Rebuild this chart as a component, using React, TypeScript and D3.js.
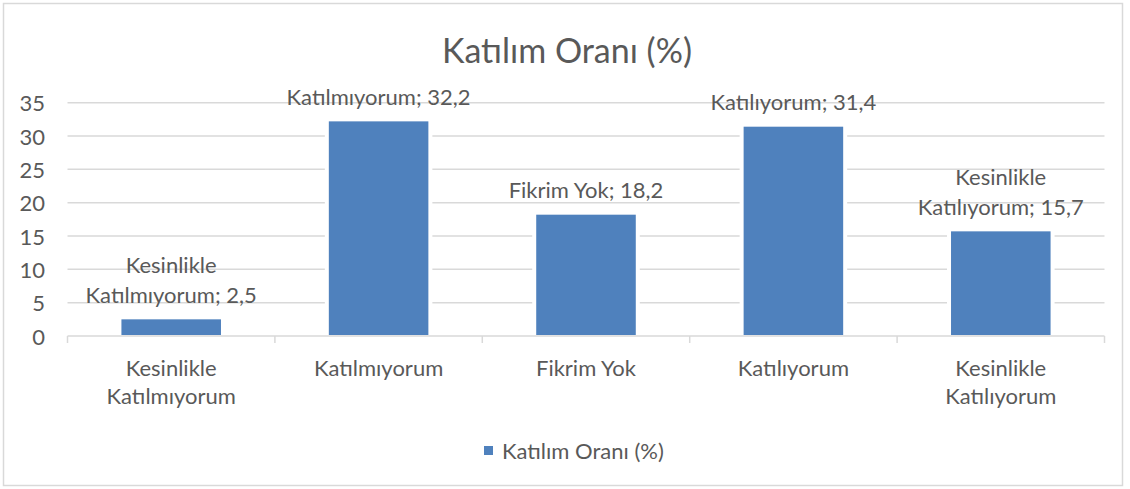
import React from 'react';
import * as d3 from 'd3';

const title = 'Katılım Oranı (%)';
const seriesName = 'Katılım Oranı (%)';
// category names, split the way the axis wraps them
const categoryLines = [
  ['Kesinlikle', 'Katılmıyorum'],
  ['Katılmıyorum'],
  ['Fikrim Yok'],
  ['Katılıyorum'],
  ['Kesinlikle', 'Katılıyorum'],
];
const values = [2.5, 32.2, 18.2, 31.4, 15.7];
const yTicks = [0, 5, 10, 15, 20, 25, 30, 35];

const W = 1130;
const H = 489;
const FONT = 'Lato, "Open Sans", sans-serif';
const TEXT = '#595959';
const GRID = '#D9D9D9';
const BLUE = '#4F81BD';
const FS = 22;

const App = () => {
  const keys = categoryLines.map((l) => l.join(' '));
  const x = d3.scaleBand<string>().domain(keys).range([67.5, 1104.5]).padding(0);
  const y = d3.scaleLinear().domain([0, 35]).range([336, 102.7]);
  const barW = x.bandwidth() * 0.48;
  const fmt = (v: number) => String(v).replace('.', ',');
  const ticksX = [...keys.map((k) => x(k)!), 1104.5];

  return (
    <svg width={W} height={H} style={{ position: 'absolute', left: 0, top: 0 }} fontFamily={FONT}>
      <rect x={3.5} y={3.5} width={1119} height={482} fill="#fff" stroke={GRID} strokeWidth={1.5} />
      <text x={567} y={49} textAnchor="middle" dominantBaseline="central" fontSize={34} fill={TEXT}>
        {title}
      </text>

      {/* gridlines and y tick labels */}
      {yTicks.map((t) => (
        <g key={t}>
          {t > 0 && <line x1={67.5} x2={1104.5} y1={y(t)} y2={y(t)} stroke={GRID} strokeWidth={1.5} />}
          <text x={45} y={y(t)} textAnchor="end" dominantBaseline="central" fontSize={FS} fill={TEXT}>
            {t}
          </text>
        </g>
      ))}

      {/* x axis */}
      <line x1={67.5} x2={1104.5} y1={336} y2={336} stroke={GRID} strokeWidth={1.5} />
      {ticksX.map((tx, i) => (
        <line key={i} x1={tx} x2={tx} y1={336} y2={343} stroke={GRID} strokeWidth={1.5} />
      ))}

      {/* bars */}
      {keys.map((k, i) => {
        const cx = x(k)! + x.bandwidth() / 2;
        const top = y(values[i]);
        return (
          <g key={k}>
            <rect x={cx - barW / 2 - 4} y={top - 1} width={barW + 8} height={336 - top} fill="#fff" />
            <rect x={cx - barW / 2} y={top} width={barW} height={335 - top} fill={BLUE} />
          </g>
        );
      })}

      {/* data labels */}
      {keys.map((k, i) => {
        const cx = x(k)! + x.bandwidth() / 2;
        const lines = categoryLines[i].slice();
        lines[lines.length - 1] = `${lines[lines.length - 1]}; ${fmt(values[i])}`;
        const lastY = y(values[i]) - 25;
        return (
          <text key={k} textAnchor="middle" fontSize={FS} fill={TEXT}>
            {lines.map((l, j) => (
              <tspan key={j} x={cx} y={lastY - (lines.length - 1 - j) * 30} dominantBaseline="central">
                {l}
              </tspan>
            ))}
          </text>
        );
      })}

      {/* category labels */}
      {keys.map((k, i) => {
        const cx = x(k)! + x.bandwidth() / 2;
        return (
          <text key={k} textAnchor="middle" fontSize={FS} fill={TEXT}>
            {categoryLines[i].map((l, j) => (
              <tspan key={j} x={cx} y={367 + j * 28} dominantBaseline="central">
                {l}
              </tspan>
            ))}
          </text>
        );
      })}

      {/* legend */}
      <rect x={484} y={446} width={9} height={9} fill={BLUE} />
      <text x={502} y={450.5} dominantBaseline="central" fontSize={FS} fill={TEXT}>
        {seriesName}
      </text>
    </svg>
  );
};

export default App;
